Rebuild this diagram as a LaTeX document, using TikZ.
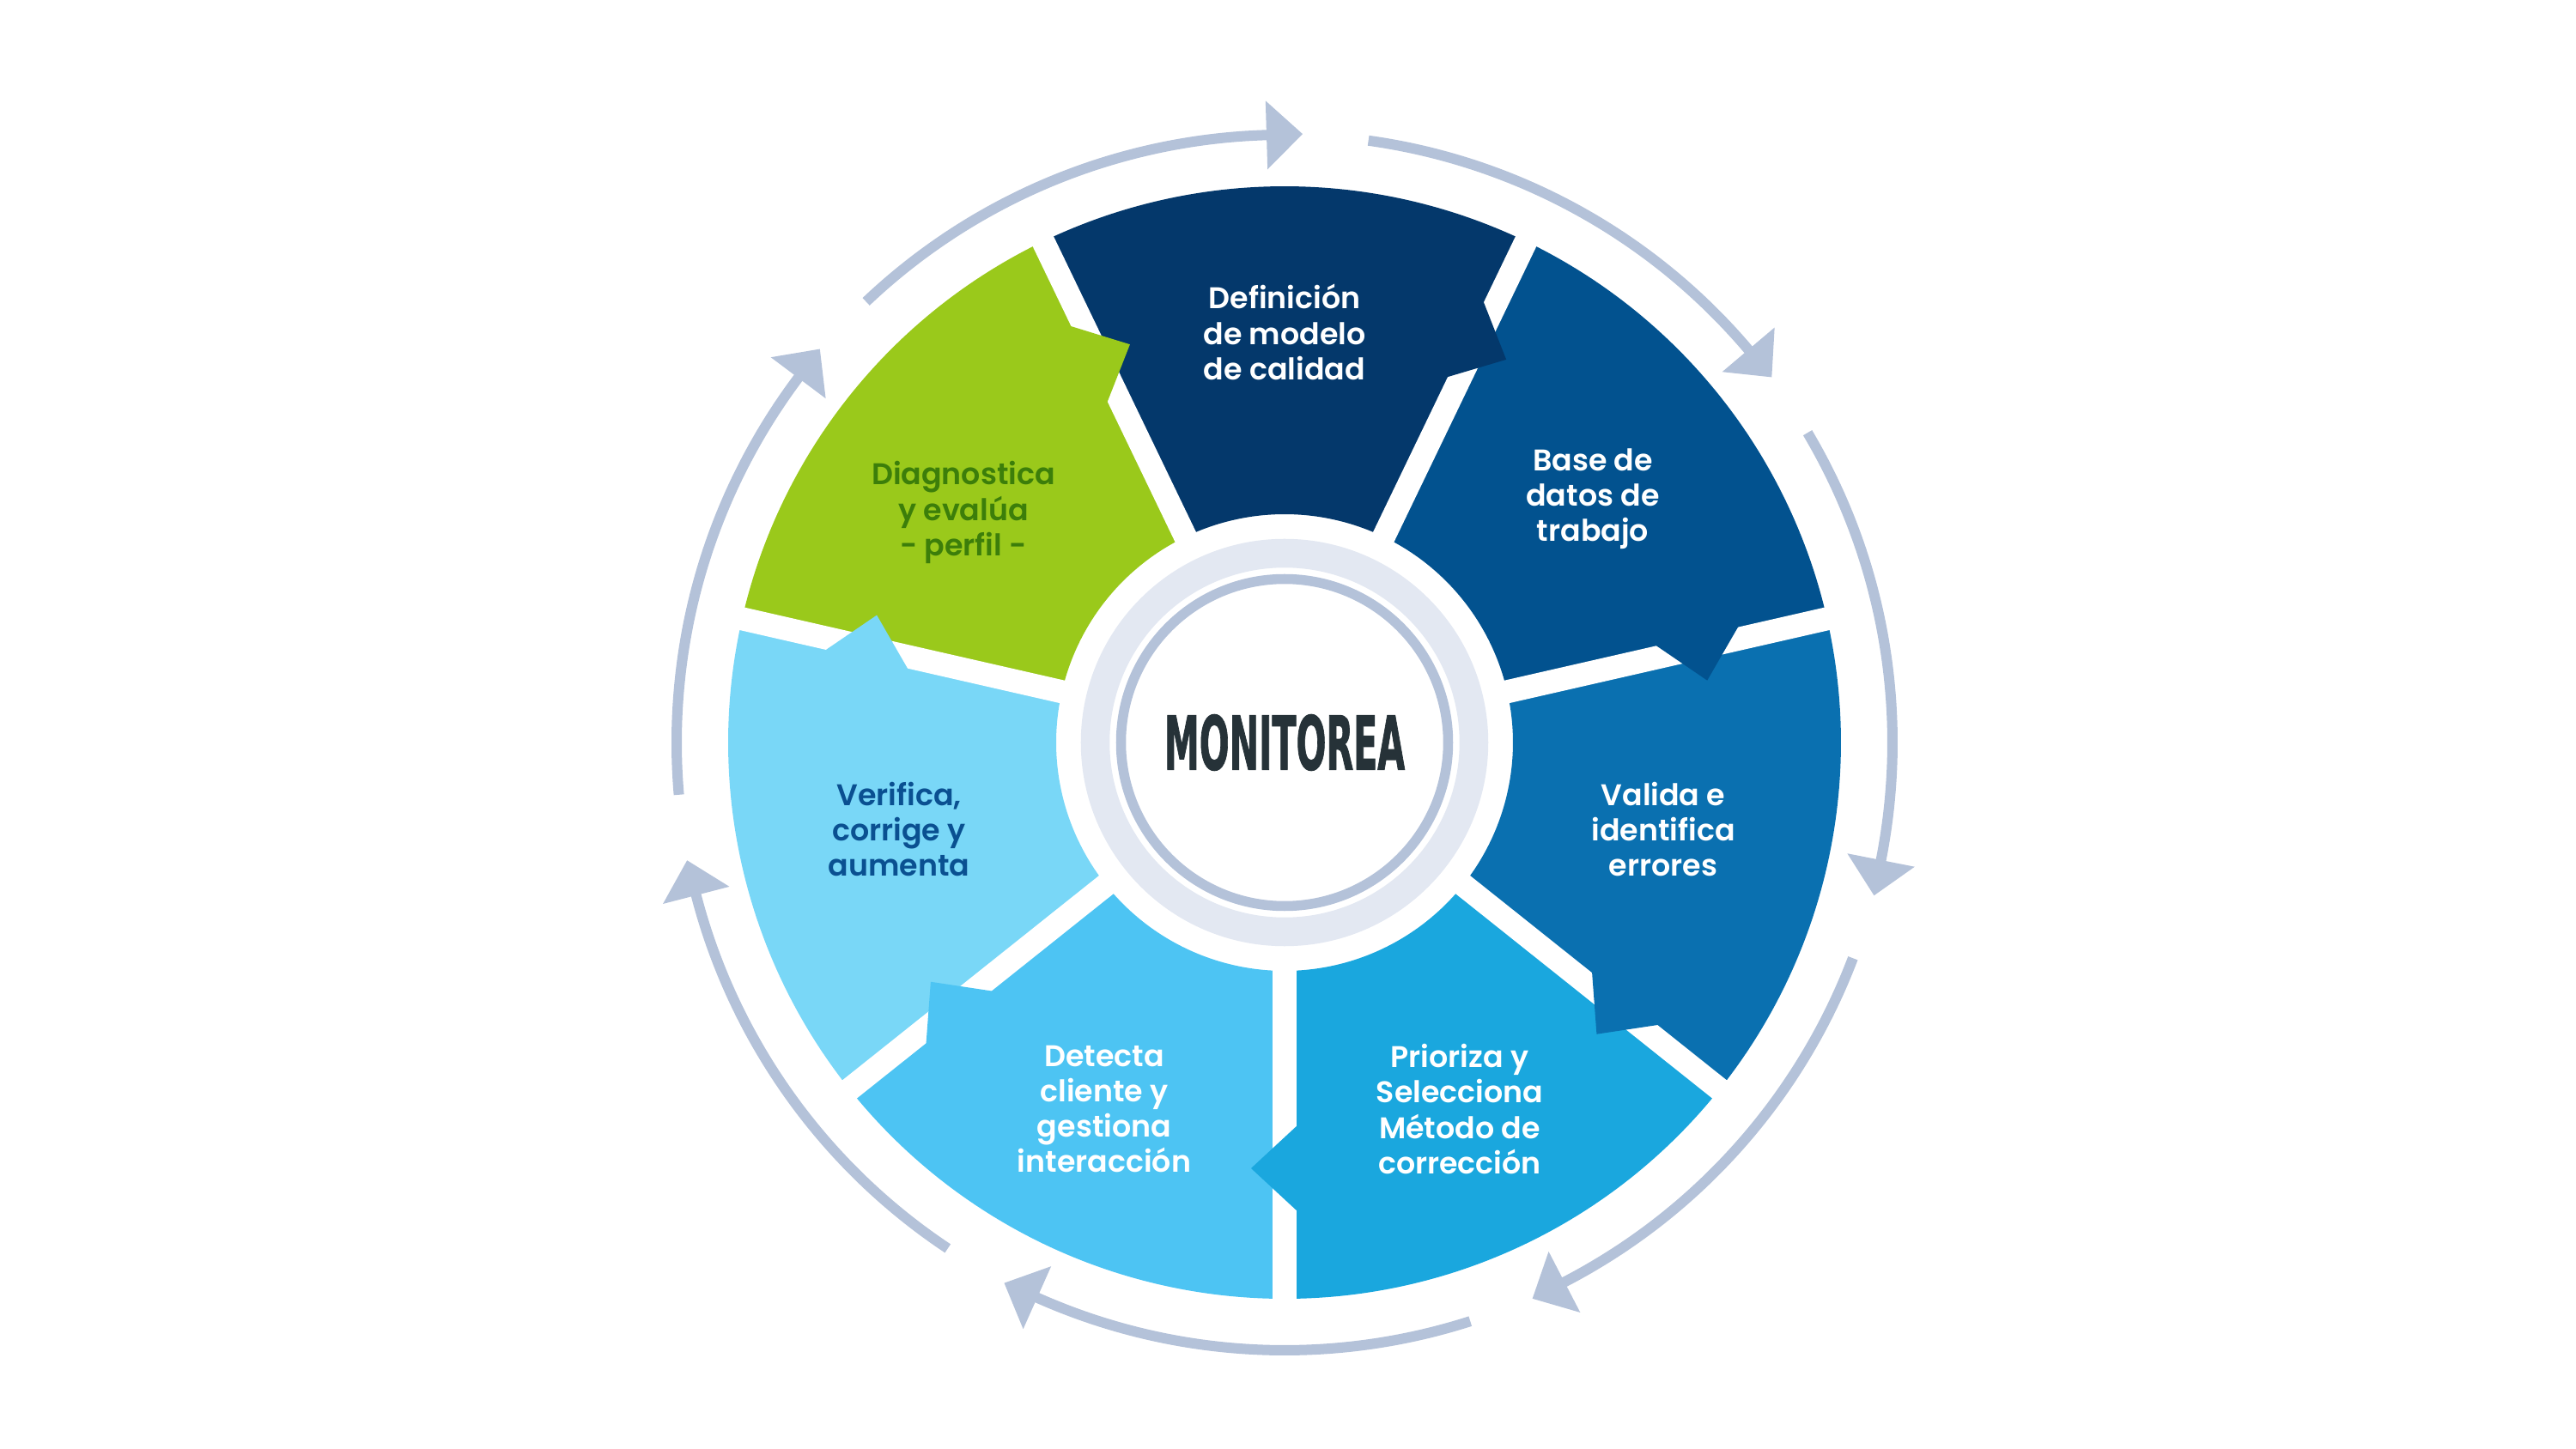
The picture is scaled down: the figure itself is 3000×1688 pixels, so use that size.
\documentclass[tikz,border=0pt]{standalone}
\usepackage{fontspec}
\usepackage{graphicx}
\setmainfont{Poppins}
\newfontfamily\labfont{Poppins SemiBold}
\newfontfamily\monofnt{DejaVu Sans}[BoldFeatures={FakeBold=1.5}]
\definecolor{cA}{HTML}{04386B}
\definecolor{cB}{HTML}{02528F}
\definecolor{cC}{HTML}{0A70B0}
\definecolor{cD}{HTML}{1AA7DE}
\definecolor{cE}{HTML}{4DC4F3}
\definecolor{cF}{HTML}{79D7F7}
\definecolor{cG}{HTML}{9AC91B}
\definecolor{txtF}{HTML}{0A5091}
\definecolor{txtG}{HTML}{3C7E0A}
\definecolor{arrowc}{HTML}{B4C2D9}
\definecolor{ringlight}{HTML}{E3E8F2}
\definecolor{ringdark}{HTML}{B4C2D9}
\definecolor{monoc}{HTML}{263238}
\tikzset{
  lab/.style={align=center, font=\labfont\fontsize{9.9}{11.7}\selectfont, text=white, inner sep=0pt},
  gapline/.style={white, line width=0.27cm},
  cyclearc/.style={arrowc, line width=0.12cm},
}
\begin{document}
\begin{tikzpicture}[x=0.01cm, y=0.01cm]
\useasboundingbox (-1496,-823) rectangle (1504,865);
% sectors
\foreach \c/\col in {90/cA, 38.5714/cB, -12.8571/cC, -64.2857/cD, -115.7143/cE, -167.1429/cF, -218.5714/cG}{
  \pgfmathsetmacro\a{\c-25.7143}
  \pgfmathsetmacro\b{\c+25.7143}
  \fill[\col] (\a:266) arc[start angle=\a, end angle=\b, radius=266] -- (\b:648) arc[start angle=\b, end angle=\a, radius=648] -- cycle;
}
% gaps
\foreach \k in {0,...,6}{
  \pgfmathsetmacro\g{64.2857-51.4286*\k}
  \draw[gapline] (\g:250) -- (\g:680);
}
% tabs
\foreach \g/\col/\ra/\rb/\rc in {64.2857/cA/464/514/565, 12.8571/cB/445/496/547, -38.5714/cC/445/496/547, -90/cD/445/496/547, -141.4286/cE/445/496/547, -192.8571/cF/445/496/547, -244.2857/cG/445/496/547}{
  \begin{scope}[rotate=\g]
    \fill[\col] (\ra,16) -- (\rb,-39) -- (\rc,16) -- cycle;
  \end{scope}
}
% rings
\draw[ringlight, line width=0.335cm] (0,0) circle[radius=220.5];
\draw[ringdark, line width=0.115cm] (0,0) circle[radius=190.5];
% outer cycle arrows
\foreach \c in {90, 38.5714, -12.8571, -64.2857, -115.7143, -167.1429, -218.5714}{
  \pgfmathsetmacro\s{\c+43.5}
  \pgfmathsetmacro\e{\c+1.2}
  \pgfmathsetmacro\h{\c+1.7}
  \draw[cyclearc] (\s:708) arc[start angle=\s, end angle=\e, radius=708];
  \begin{scope}[rotate=\h]
    \fill[arrowc] (668,0) -- (748,0) -- (708,-42) -- cycle;
  \end{scope}
}
% labels
\node[lab] (t1) at (0,478) {Definición\\de modelo\\de calidad};
\node[lab] (t2) at (359,284) {Base de\\datos de\\trabajo};
\node[lab] (t3) at (441,-101) {Valida e\\identifica\\errores};
\node[lab] (t4) at (204,-427) {Prioriza y\\Selecciona\\Método de\\corrección};
\node[lab] (t5) at (-210,-427) {Detecta\\cliente y\\gestiona\\interacción};
\node[lab, text=txtF] (t6) at (-449,-101) {Verifica,\\corrige y\\aumenta};
\node[lab, text=txtG] (t7) at (-374,268) {Diagnostica\\y evalúa\\- perfil -};
\node[inner sep=0pt, text=monoc, font=\monofnt\bfseries\fontsize{23.4}{26}\selectfont] (mon) at (0,0) {\scalebox{0.5}[1.05]{MONITOREA}};
\end{tikzpicture}
\end{document}
